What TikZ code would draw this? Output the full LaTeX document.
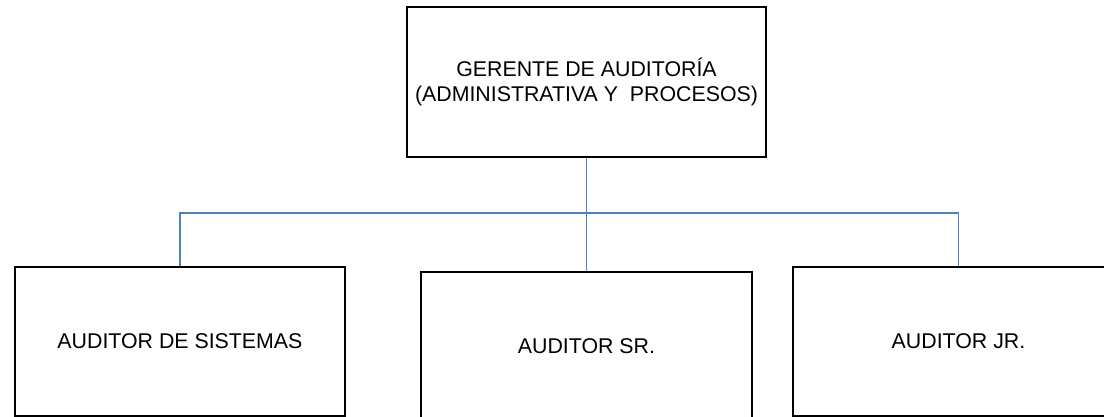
\documentclass[tikz,border=0pt]{standalone}
\usepackage{fontspec}
\setmainfont{Liberation Sans}
\usetikzlibrary{positioning}

\definecolor{azulrama}{HTML}{4F81BD}

\tikzset{
    puesto/.style={draw, line width=1.4pt, align=center, inner sep=0pt,
        minimum width=248pt, minimum height=111.75pt,
        font=\fontsize{16}{18.75}\selectfont},
    rama/.style={draw=azulrama, line width=1.3pt}
}

\begin{document}
\begin{tikzpicture}[x=0.75pt, y=-0.75pt, node distance=2cm, on grid]
            \useasboundingbox (0,0) rectangle (1104,417);
            \clip (0,0) rectangle (1104,417);
            \node[puesto, minimum width=269.25pt, minimum height=112.5pt] (gerente) at (586.5,82)
                {GERENTE DE AUDITORÍA\\(ADMINISTRATIVA Y\ \ PROCESOS)};
            \node[puesto] (sistemas) [below left=194.6pt and 304.9pt of gerente] {AUDITOR DE SISTEMAS};
            \node[puesto] (sr) [below=198.4pt of gerente] {AUDITOR SR.};
            \node[puesto] (jr) [below right=194.6pt and 279pt of gerente] {AUDITOR JR.};
            \coordinate[below=41.25pt of gerente.south] (union);
            \path[rama]
                (gerente.south) -- (union)
                (sistemas.north) |- (union) -| (jr.north)
                (union) -- (sr.north);
        \end{tikzpicture}
\end{document}
